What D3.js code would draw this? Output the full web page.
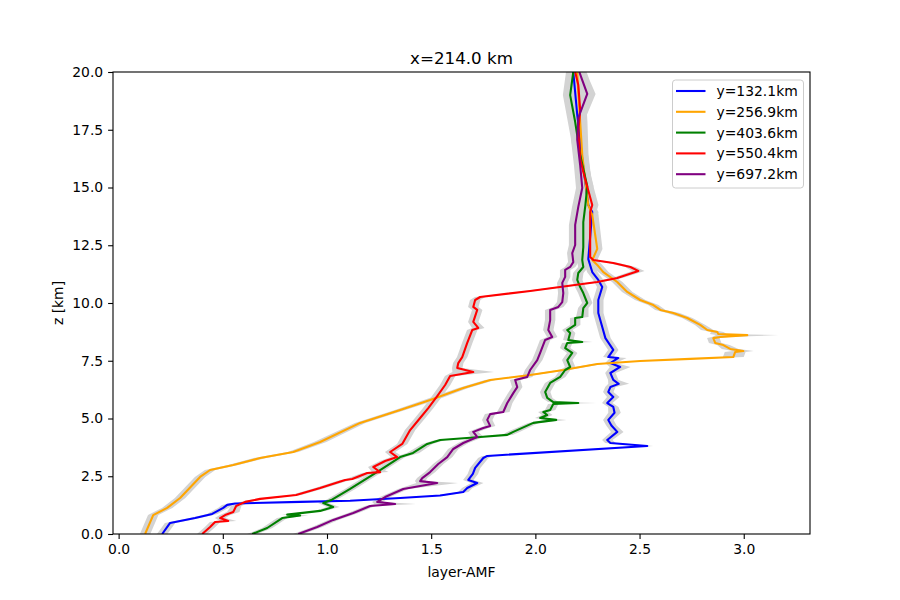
<!DOCTYPE html>
<html>
<head>
<meta charset="utf-8">
<script src="https://cdn.jsdelivr.net/npm/d3@7"></script>
<style>
body{margin:0;background:#fff;}
svg{font-family:"DejaVu Sans",sans-serif;}
</style>
</head>
<body>
<div id="chart"></div>
<script>
// series names and colours
var names = ["y=132.1km","y=256.9km","y=403.6km","y=550.4km","y=697.2km"];
var colors = ["blue","orange","green","red","purple"];
var xTicks = [0,0.5,1.0,1.5,2.0,2.5,3.0];
var yTicks = [0,2.5,5,7.5,10,12.5,15,17.5,20];

// each point: [z km, layer-AMF, spread]
var blue = [[0,0.209,0.025],[0.48,0.247,0.025],[0.56,0.295,0.025],[0.69,0.367,0.025],[0.87,0.449,0.025],[1.13,0.502,0.025],[1.26,0.521,0.025],[1.32,0.559,0.025],[1.39,0.871,0.025],[1.44,1.111,0.025],[1.56,1.351,0.025],[1.67,1.543,0.025],[1.82,1.654,0.025],[1.99,1.673,0.025],[2.21,1.721,0.03],[2.34,1.678,0.025],[2.60,1.700,0.025],[2.86,1.711,0.025],[3.29,1.750,0.025],[3.38,1.769,0.025],[3.81,2.537,0.03],[3.94,2.360,0.025],[4.07,2.345,0.025],[4.42,2.393,0.03],[4.70,2.365,0.025],[4.94,2.350,0.025],[5.25,2.380,0.03],[5.50,2.374,0.025],[5.67,2.345,0.025],[5.93,2.374,0.03],[6.15,2.350,0.025],[6.36,2.360,0.025],[6.50,2.400,0.05],[6.67,2.374,0.025],[6.97,2.360,0.025],[7.23,2.407,0.05],[7.40,2.360,0.025],[7.62,2.398,0.04],[7.66,2.350,0.025],[7.97,2.374,0.025],[8.48,2.336,0.025],[8.96,2.321,0.025],[9.57,2.302,0.025],[10.13,2.302,0.025],[10.69,2.321,0.025],[11.00,2.302,0.025],[11.34,2.273,0.025],[11.90,2.254,0.025],[13.94,2.273,0.03],[14.24,2.254,0.03],[16.23,2.225,0.03],[18.14,2.201,0.035],[20.0,2.182,0.035]];
var orange = [[0,0.127,0.025],[0.82,0.166,0.025],[1.13,0.233,0.025],[1.56,0.295,0.025],[2.47,0.391,0.025],[2.77,0.439,0.025],[2.99,0.550,0.025],[3.29,0.679,0.03],[3.55,0.838,0.025],[3.98,0.967,0.03],[4.81,1.159,0.025],[5.37,1.351,0.025],[5.80,1.495,0.03],[6.32,1.654,0.025],[6.67,1.783,0.025],[6.88,1.975,0.025],[7.10,2.134,0.025],[7.36,2.297,0.025],[7.49,2.503,0.025],[7.58,2.743,0.025],[7.66,2.950,0.05],[7.88,2.959,0.05],[7.92,2.998,0.05],[8.01,2.935,0.04],[8.18,2.902,0.03],[8.27,2.863,0.03],[8.48,2.854,0.03],[8.53,2.888,0.04],[8.61,3.017,0.15],[8.66,2.878,0.04],[8.74,2.873,0.03],[8.83,2.825,0.03],[9.05,2.791,0.025],[9.35,2.729,0.025],[9.57,2.662,0.03],[9.70,2.600,0.025],[9.91,2.566,0.025],[10.13,2.503,0.025],[10.48,2.441,0.025],[10.91,2.393,0.025],[11.34,2.326,0.025],[11.65,2.297,0.025],[11.86,2.273,0.025],[12.34,2.297,0.025],[13.81,2.273,0.03],[14.24,2.254,0.03],[15.24,2.240,0.03],[16.41,2.225,0.03],[17.84,2.215,0.035],[19.13,2.206,0.035],[20.0,2.201,0.035]];
var green = [[0,0.641,0.025],[0.26,0.713,0.025],[0.69,0.785,0.025],[0.80,0.871,0.04],[0.84,0.809,0.025],[1.00,0.967,0.025],[1.17,1.030,0.03],[1.34,0.982,0.025],[1.47,1.020,0.025],[1.95,1.111,0.025],[2.77,1.255,0.025],[3.33,1.351,0.025],[3.51,1.413,0.03],[3.90,1.481,0.025],[4.07,1.543,0.025],[4.20,1.735,0.025],[4.29,1.865,0.025],[4.42,1.894,0.03],[4.81,1.990,0.025],[4.94,2.100,0.05],[5.02,2.023,0.025],[5.15,2.057,0.025],[5.28,2.038,0.025],[5.37,2.071,0.025],[5.63,2.086,0.025],[5.67,2.206,0.09],[5.71,2.086,0.025],[5.89,2.057,0.025],[6.15,2.047,0.025],[6.54,2.071,0.025],[6.80,2.119,0.025],[7.10,2.143,0.025],[7.23,2.167,0.025],[7.53,2.153,0.025],[7.84,2.177,0.025],[8.05,2.143,0.025],[8.27,2.153,0.025],[8.31,2.225,0.05],[8.40,2.158,0.025],[8.70,2.167,0.025],[8.83,2.153,0.025],[9.05,2.191,0.025],[9.35,2.191,0.025],[9.39,2.225,0.03],[9.78,2.230,0.025],[10.0,2.249,0.025],[10.43,2.230,0.025],[10.69,2.215,0.025],[11.0,2.201,0.025],[11.30,2.206,0.025],[11.56,2.230,0.025],[11.86,2.225,0.025],[12.42,2.230,0.03],[13.5,2.230,0.03],[14.24,2.240,0.03],[15.06,2.249,0.03],[16.41,2.215,0.03],[17.84,2.191,0.035],[19.0,2.167,0.035],[20.0,2.182,0.035]];
var red = [[0,0.401,0.025],[0.30,0.439,0.025],[0.52,0.463,0.025],[0.56,0.526,0.04],[0.69,0.487,0.025],[0.82,0.511,0.025],[0.95,0.550,0.03],[1.21,0.564,0.025],[1.39,0.607,0.025],[1.52,0.679,0.025],[1.69,0.852,0.025],[1.99,0.967,0.025],[2.34,1.087,0.025],[2.38,1.121,0.03],[2.64,1.193,0.025],[2.68,1.255,0.04],[2.90,1.222,0.025],[3.16,1.279,0.025],[3.33,1.337,0.03],[3.55,1.303,0.025],[3.90,1.361,0.025],[4.50,1.399,0.025],[5.02,1.447,0.025],[5.45,1.486,0.025],[5.97,1.529,0.025],[6.45,1.567,0.025],[6.84,1.591,0.025],[7.01,1.702,0.10],[7.19,1.625,0.025],[7.40,1.630,0.025],[7.66,1.649,0.025],[8.27,1.673,0.025],[8.83,1.697,0.025],[8.92,1.726,0.03],[9.18,1.702,0.025],[9.70,1.721,0.025],[9.83,1.702,0.025],[10.13,1.711,0.025],[10.26,1.735,0.025],[10.52,1.975,0.025],[10.91,2.297,0.025],[11.08,2.393,0.025],[11.39,2.494,0.03],[11.56,2.456,0.025],[11.73,2.374,0.025],[11.86,2.278,0.025],[11.99,2.263,0.025],[12.73,2.263,0.025],[13.94,2.263,0.03],[14.24,2.273,0.03],[15.67,2.230,0.03],[16.23,2.215,0.03],[17.40,2.206,0.03],[18.35,2.215,0.035],[19.44,2.206,0.035],[20.0,2.191,0.035]];
var purple = [[0,0.862,0.025],[0.30,0.953,0.025],[0.61,1.030,0.025],[0.91,1.126,0.025],[1.21,1.207,0.025],[1.30,1.327,0.10],[1.39,1.241,0.025],[1.60,1.279,0.025],[1.95,1.366,0.025],[2.21,1.529,0.10],[2.29,1.447,0.025],[2.42,1.457,0.025],[2.68,1.495,0.025],[3.03,1.534,0.025],[3.33,1.577,0.025],[3.68,1.606,0.025],[3.94,1.654,0.025],[4.20,1.721,0.03],[4.42,1.702,0.025],[4.59,1.750,0.025],[4.68,1.783,0.025],[4.94,1.769,0.025],[5.19,1.783,0.025],[5.28,1.846,0.03],[5.67,1.865,0.025],[6.10,1.894,0.025],[6.36,1.913,0.025],[6.67,1.903,0.025],[6.80,1.961,0.025],[7.10,1.975,0.025],[7.53,2.009,0.025],[7.84,2.023,0.025],[8.40,2.047,0.025],[8.53,2.081,0.025],[8.83,2.062,0.025],[9.26,2.071,0.025],[9.70,2.071,0.025],[9.83,2.110,0.025],[10.04,2.129,0.025],[10.43,2.134,0.025],[10.87,2.129,0.025],[11.13,2.143,0.025],[11.43,2.143,0.025],[11.56,2.167,0.025],[11.77,2.182,0.025],[12.16,2.177,0.025],[12.51,2.191,0.03],[13.38,2.191,0.03],[14.16,2.206,0.03],[14.98,2.225,0.03],[15.97,2.215,0.03],[17.06,2.201,0.03],[18.01,2.206,0.035],[19.05,2.249,0.04],[19.65,2.225,0.035],[20.0,2.211,0.035]];
var profiles = [blue, orange, green, red, purple];

var W = 900, H = 600;
var L = 113, R = 810, T = 72, B = 534;

var svg = d3.select("#chart").append("svg").attr("width", W).attr("height", H);

var x = d3.scaleLinear().domain([-0.027, 3.318]).range([L, R]);
var y = d3.scaleLinear().domain([0, 20]).range([B, T]);

svg.append("clipPath").attr("id", "clip")
    .append("rect").attr("x", L).attr("y", T).attr("width", R - L).attr("height", B - T);

var band = d3.area()
    .y(function (d) { return y(d[0]); })
    .x0(function (d) { return x(d[1] - d[2]); })
    .x1(function (d) { return x(d[1] + d[2]); });
var line = d3.line()
    .x(function (d) { return x(d[1]); })
    .y(function (d) { return y(d[0]); });

var plot = svg.append("g").attr("clip-path", "url(#clip)");

// grey spread first, lines on top
profiles.forEach(function (p) {
    plot.append("path").attr("d", band(p))
        .attr("fill", "#d3d3d3").attr("stroke", "none");
});
profiles.forEach(function (p, i) {
    plot.append("path").attr("d", line(p))
        .attr("fill", "none").attr("stroke", colors[i])
        .attr("stroke-width", 2.08).attr("stroke-linejoin", "round");
});

// axes
var xAxis = d3.axisBottom(x).tickValues(xTicks).tickFormat(d3.format(".1f")).tickSize(4.9).tickPadding(4.9);
var yAxis = d3.axisLeft(y).tickValues(yTicks).tickFormat(d3.format(".1f")).tickSize(4.9).tickPadding(4.9);

var gx = svg.append("g").attr("transform", "translate(0," + B + ")").call(xAxis);
var gy = svg.append("g").attr("transform", "translate(" + L + ",0)").call(yAxis);
[gx, gy].forEach(function (g) {
    g.select(".domain").remove();
    g.selectAll("line").attr("stroke", "#000").attr("stroke-width", 1.1);
    g.selectAll("text").attr("fill", "#000").style("font-size", "13.9px")
        .style("font-family", "DejaVu Sans");
});

svg.append("rect").attr("x", L).attr("y", T).attr("width", R - L).attr("height", B - T)
    .attr("fill", "none").attr("stroke", "#000").attr("stroke-width", 1.1);

svg.append("text").attr("x", (L + R) / 2).attr("y", 64).attr("text-anchor", "middle")
    .style("font-size", "16.7px").text("x=214.0 km");
svg.append("text").attr("x", (L + R) / 2).attr("y", 577).attr("text-anchor", "middle")
    .style("font-size", "13.9px").text("layer-AMF");
svg.append("text").attr("transform", "translate(63," + ((T + B) / 2) + ") rotate(-90)")
    .attr("text-anchor", "middle").style("font-size", "13.9px").text("z [km]");

// legend
var lg = svg.append("g");
lg.append("rect").attr("x", 672.5).attr("y", 80).attr("width", 131).attr("height", 108)
    .attr("rx", 3).attr("fill", "#fff").attr("fill-opacity", 0.8)
    .attr("stroke", "#cccccc").attr("stroke-width", 1);
names.forEach(function (n, i) {
    var ly = 91 + i * 20.8;
    lg.append("line").attr("x1", 676).attr("x2", 705.5).attr("y1", ly).attr("y2", ly)
        .attr("stroke", colors[i]).attr("stroke-width", 2.08);
    lg.append("text").attr("x", 716.5).attr("y", ly + 5).style("font-size", "13.9px").text(n);
});
</script>
</body>
</html>
